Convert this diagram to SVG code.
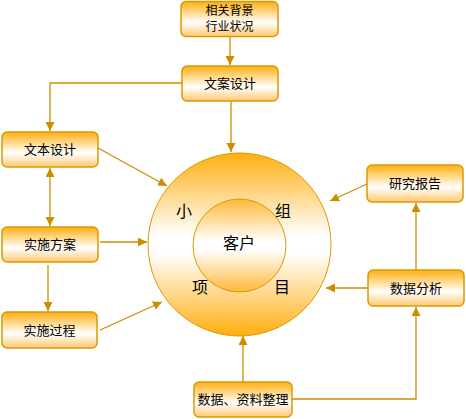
<svg xmlns="http://www.w3.org/2000/svg" width="466" height="419" viewBox="0 0 466 419">
<defs>
<linearGradient id="gBox" x1="0" y1="0" x2="0" y2="1">
<stop offset="0" stop-color="#FFAE10"/>
<stop offset="0.6" stop-color="#FFFFFF"/>
<stop offset="1" stop-color="#FFC870"/>
</linearGradient>
<linearGradient id="gOuter" x1="0" y1="0" x2="0" y2="1">
<stop offset="0" stop-color="#FFAE10"/>
<stop offset="0.45" stop-color="#FFFFFF"/>
<stop offset="0.55" stop-color="#FFFFFF"/>
<stop offset="1" stop-color="#FFAE10"/>
</linearGradient>
<linearGradient id="gInner" x1="0" y1="0" x2="0" y2="1">
<stop offset="0" stop-color="#FFB838"/>
<stop offset="0.45" stop-color="#FFFFFF"/>
<stop offset="0.55" stop-color="#FFFFFF"/>
<stop offset="1" stop-color="#FFB838"/>
</linearGradient>
<marker id="arr" markerUnits="userSpaceOnUse" markerWidth="10" markerHeight="10" refX="9" refY="4.5" orient="auto-start-reverse">
<path d="M0,0 L9,4.5 L0,9 z" fill="#CC8E00"/>
</marker>
<style>
.box{fill:url(#gBox);stroke:#DA9A00;stroke-width:1.5}
.t{font-family:"Noto Sans CJK SC","Noto Sans",sans-serif;font-size:13px;fill:#000;text-anchor:middle}
.t2{font-family:"Noto Sans CJK SC","Noto Sans",sans-serif;font-size:12px;fill:#000;text-anchor:middle}
.c{font-family:"Noto Sans CJK SC","Noto Sans",sans-serif;font-size:16px;fill:#000;text-anchor:middle}
.ln{fill:none;stroke:#CC8E00;stroke-width:1.3}
</style>
</defs>
<g id="connectors">
<path class="ln" d="M230,37 V65" marker-end="url(#arr)"/>
<path class="ln" d="M182,83 H50 V131" marker-end="url(#arr)"/>
<path class="ln" d="M231,101 V152" marker-end="url(#arr)"/>
<path class="ln" d="M98,148 L167,186" marker-end="url(#arr)"/>
<path class="ln" d="M50,168 V226" marker-start="url(#arr)" marker-end="url(#arr)"/>
<path class="ln" d="M100,242 H147" marker-end="url(#arr)"/>
<path class="ln" d="M48,265 V311" marker-end="url(#arr)"/>
<path class="ln" d="M100,330 L162,302" marker-end="url(#arr)"/>
<path class="ln" d="M243,382 V336" marker-end="url(#arr)"/>
<path class="ln" d="M292,399 H416 V307" marker-end="url(#arr)"/>
<path class="ln" d="M368,288 H326" marker-end="url(#arr)"/>
<path class="ln" d="M416,270 V203" marker-end="url(#arr)"/>
<path class="ln" d="M367,184 L330,201" marker-end="url(#arr)"/>
</g>
<g id="circle">
<circle cx="239.5" cy="244.5" r="91.5" fill="url(#gOuter)" stroke="#DA9A00" stroke-width="1"/>
<circle cx="239.5" cy="245.5" r="46.5" fill="url(#gInner)" stroke="#DA9A00" stroke-width="1"/>
<text class="c" x="239" y="249">客户</text>
<text class="c" x="184" y="217">小</text>
<text class="c" x="283" y="217">组</text>
<text class="c" x="200" y="293">项</text>
<text class="c" x="282" y="293">目</text>
</g>
<g id="n-bg">
<rect class="box" x="181" y="1.5" width="97" height="35" rx="5"/>
<text class="t2" x="229.5" y="15">相关背景</text>
<text class="t2" x="229.5" y="31">行业状况</text>
</g>
<g id="n-wenan">
<rect class="box" x="182" y="66" width="96" height="35" rx="5"/>
<text class="t" x="230" y="88">文案设计</text>
</g>
<g id="n-wenben">
<rect class="box" x="2" y="132" width="96" height="35" rx="5"/>
<text class="t" x="50" y="154">文本设计</text>
</g>
<g id="n-fangan">
<rect class="box" x="2" y="227" width="96" height="35" rx="5"/>
<text class="t" x="50" y="249">实施方案</text>
</g>
<g id="n-guocheng">
<rect class="box" x="2" y="312" width="95" height="36" rx="5"/>
<text class="t" x="49.5" y="335">实施过程</text>
</g>
<g id="n-zhengli">
<rect class="box" x="194" y="382" width="98" height="35" rx="5"/>
<text class="t" x="243" y="404">数据、资料整理</text>
</g>
<g id="n-baogao">
<rect class="box" x="367" y="165" width="96" height="37" rx="5"/>
<text class="t" x="415" y="188">研究报告</text>
</g>
<g id="n-fenxi">
<rect class="box" x="368" y="270" width="96" height="36" rx="5"/>
<text class="t" x="416" y="293">数据分析</text>
</g>
</svg>
